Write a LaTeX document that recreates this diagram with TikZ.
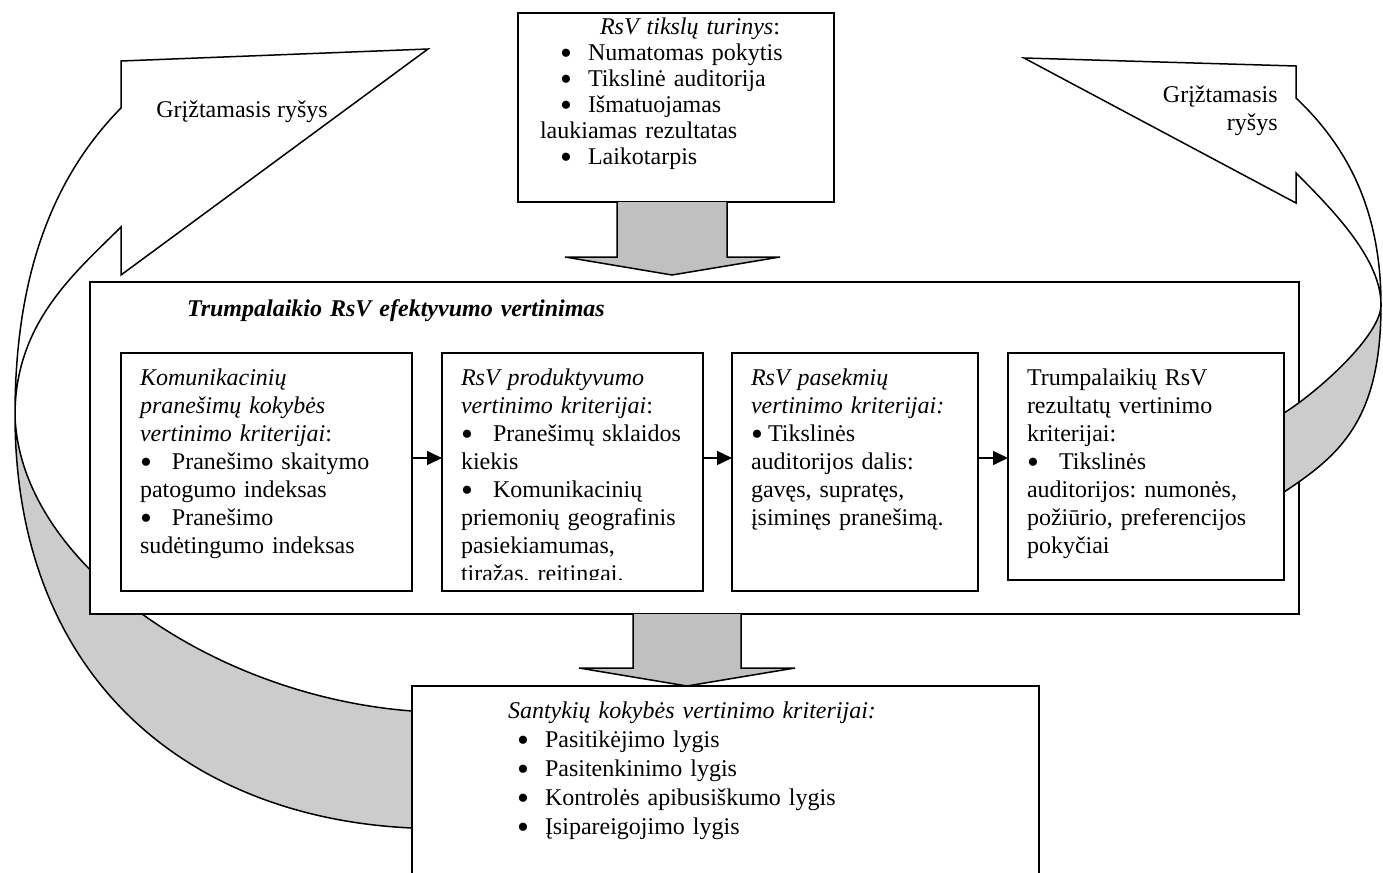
\documentclass[tikz,border=0pt]{standalone}
\usepackage{fontspec}
\setmainfont{Liberation Serif}
\usetikzlibrary{arrows.meta, calc}
\definecolor{bandgray}{RGB}{204,204,204}
\definecolor{arrowgray}{RGB}{192,192,192}
\newcommand{\bul}[1]{\makebox[#1][l]{\raisebox{-2.2pt}{\fontsize{17}{14}\selectfont\textbullet}}}
\frenchspacing

\begin{document}
\begin{tikzpicture}[x=0.5pt, y=-0.5pt,
  txt/.style={font=\fontsize{12}{14}\selectfont, inner sep=0pt},
  crit/.style={txt, draw, fill=white, line width=0.8pt, anchor=north west, outer sep=0pt, inner xsep=9.5pt, inner ysep=0pt, text height=16pt, align=left},
  outerbox/.style={crit, line width=1pt, inner xsep=48.5pt},
  band/.style={draw, fill=bandgray, line width=0.75pt},
  face/.style={draw, fill=white, line width=0.75pt},
  blockarrow/.style={draw, fill=arrowgray, line width=0.75pt},
  flow/.style={-{Triangle[length=7.5pt, width=7pt]}, line width=0.8pt}
]
\useasboundingbox (0,0) rectangle (1383,873);

% left feedback arrow
\path[band] (15,415) .. controls (15,680) and (190,818) .. (412,828) -- (412,711) .. controls (212,696) and (19,562) .. (15,415) -- cycle;
\path[face] (121,61) -- (428,49) -- (121,275) -- (121,227) .. controls (76,272) and (15,322) .. (15,415) .. controls (15,290) and (45,185) .. (121,108) -- cycle;
\node[txt, anchor=base west] (fbl) at (156,117) {Grįžtamasis ryšys};

% right feedback arrow, head part
\path[face] (1024,58) -- (1296,66) -- (1296,98) .. controls (1351,150) and (1381,215) .. (1381,305) .. controls (1381,260) and (1336,213) .. (1296,173) -- (1296,203) -- cycle;
\node[txt, text width=70pt, align=right, anchor=base east] (fbr) at (1278,102) {Grįžtamasis\\ryšys};

% goals
\node[crit, inner xsep=11pt, text width=136pt, text height=10.5pt, text depth=84pt, font=\fontsize{12}{13}\selectfont] (tikslai) at (518,13) {%
  \hspace*{30pt}\textit{RsV tikslų turinys}:\\
  \hspace*{10pt}\bul{14pt}Numatomas pokytis\\
  \hspace*{10pt}\bul{14pt}Tikslinė auditorija\\
  \hspace*{10pt}\bul{14pt}Išmatuojamas\\
  laukiamas rezultatas\\
  \hspace*{10pt}\bul{14pt}Laikotarpis};
\draw[blockarrow] ([xshift=-29.5pt]tikslai.south) -- ++(0,55) -- ++(-52,0) -- ++(107,18) -- ++(108,-18) -- ++(-53,0) -- ++(0,-55);

% short term evaluation
\node[outerbox, text width=507.5pt, text height=17pt, text depth=149pt] (eval) at (90,282) {\textbf{\textit{Trumpalaikio RsV efektyvumo vertinimas}}};

% right feedback arrow, back part
\path[band] (1381,305) .. controls (1381,420) and (1340,455) .. (1284,492) -- (1284,413) .. controls (1319,391) and (1381,335) .. (1381,305) -- cycle;

\node[crit, text width=126.5pt, text depth=103pt] (kom) at (121,353) {%
  \textit{Komunikacinių}\\
  \textit{pranešimų kokybės}\\
  \textit{vertinimo kriterijai}:\\
  \bul{16pt}Pranešimo skaitymo\\
  patogumo indeksas\\
  \bul{16pt}Pranešimo\\
  sudėtingumo indeksas};

\begin{scope}
  \clip (430,340) rectangle (715,579);
  \node[crit, text width=111.5pt, text depth=103pt] (prod) at (442,353) {%
    \textit{RsV produktyvumo}\\
    \textit{vertinimo kriterijai}:\\
    \bul{16pt}Pranešimų sklaidos\\
    kiekis\\
    \bul{16pt}Komunikacinių\\
    priemonių geografinis\\
    pasiekiamumas,\\
    tiražas, reitingai.};
\end{scope}
\draw[line width=0.8pt] (prod.south west) rectangle (prod.north east);

\node[crit, text width=104pt, text depth=103pt] (pas) at (732,353) {%
  \textit{RsV pasekmių}\\
  \textit{vertinimo kriterijai:}\\
  \bul{8.5pt}Tikslinės\\
  auditorijos dalis:\\
  gavęs, supratęs,\\
  įsiminęs pranešimą.};

\node[crit, text width=119pt, text depth=97.5pt] (rez) at (1008,353) {%
  Trumpalaikių RsV\\
  rezultatų vertinimo\\
  kriterijai:\\
  \bul{16pt}Tikslinės\\
  auditorijos: numonės,\\
  požiūrio, preferencijos\\
  pokyčiai};

\draw[flow] ([yshift=7pt]kom.east) -- ([yshift=7pt]kom.east -| prod.west);
\draw[flow] ([yshift=7pt]prod.east) -- ([yshift=7pt]prod.east -| pas.west);
\draw[flow] ([yshift=7pt]pas.east) -- ([yshift=7pt]pas.east -| rez.west);

% relationship quality
\draw[blockarrow] ([xshift=-30.75pt]eval.south) -- ++(0,54) -- ++(-54,0) -- ++(108,18) -- ++(108,-18) -- ++(-54,0) -- ++(0,-54);
\node[crit, inner xsep=48pt, text width=217.5pt, text depth=81pt, font=\fontsize{12}{14.5}\selectfont] (sant) at (412,686) {%
  \textit{Santykių kokybės vertinimo kriterijai:}\\
  \hspace*{4.5pt}\bul{14pt}Pasitikėjimo lygis\\
  \hspace*{4.5pt}\bul{14pt}Pasitenkinimo lygis\\
  \hspace*{4.5pt}\bul{14pt}Kontrolės apibusiškumo lygis\\
  \hspace*{4.5pt}\bul{14pt}Įsipareigojimo lygis};
\end{tikzpicture}
\end{document}
